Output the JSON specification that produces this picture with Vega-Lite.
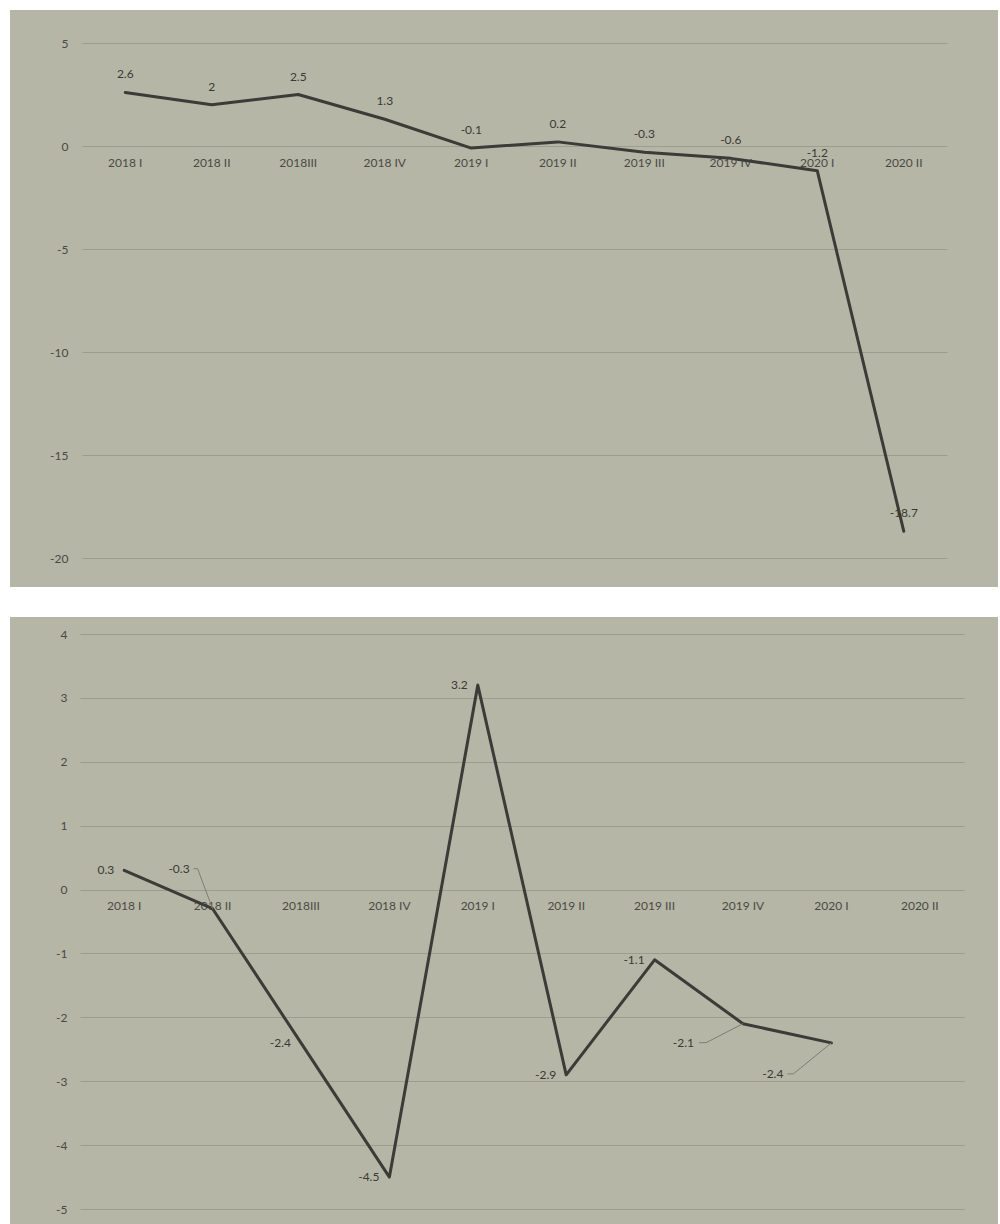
{
  "$schema": "https://vega.github.io/schema/vega-lite/v6.json",
  "background": "white",
  "padding": {"left": 10, "top": 10, "right": 2, "bottom": 0},
  "spacing": 30,
  "config": {
    "font": "Lato",
    "view": {"fill": "#b5b6a6", "stroke": null},
    "locale": {"number": {"decimal": ".", "thousands": ",", "grouping": [3], "currency": ["$", ""], "minus": "-"}},
    "axis": {
      "labelFont": "Lato",
      "labelFontSize": 12,
      "labelColor": "#4a4a44",
      "gridColor": "#9c9d8e",
      "gridWidth": 1,
      "gridOpacity": 1,
      "domain": false,
      "ticks": false,
      "title": null
    },
    "text": {"font": "Lato", "fontSize": 12, "color": "#3a3a35"}
  },
  "datasets": {
    "gdp": [
      {"quarter": "2018 I", "value": 2.6},
      {"quarter": "2018 II", "value": 2},
      {"quarter": "2018III", "value": 2.5},
      {"quarter": "2018 IV", "value": 1.3},
      {"quarter": "2019 I", "value": -0.1},
      {"quarter": "2019 II", "value": 0.2},
      {"quarter": "2019 III", "value": -0.3},
      {"quarter": "2019 IV", "value": -0.6},
      {"quarter": "2020 I", "value": -1.2},
      {"quarter": "2020 II", "value": -18.7}
    ],
    "chg": [
      {"quarter": "2018 I", "value": 0.3},
      {"quarter": "2018 II", "value": -0.3},
      {"quarter": "2018III", "value": -2.4},
      {"quarter": "2018 IV", "value": -4.5},
      {"quarter": "2019 I", "value": 3.2},
      {"quarter": "2019 II", "value": -2.9},
      {"quarter": "2019 III", "value": -1.1},
      {"quarter": "2019 IV", "value": -2.1},
      {"quarter": "2020 I", "value": -2.4}
    ]
  },
  "vconcat": [
    {
      "width": 988,
      "height": 577,
      "data": {"name": "gdp"},
      "encoding": {
        "x": {
          "field": "quarter",
          "type": "ordinal",
          "sort": null,
          "scale": {
            "type": "band",
            "domain": ["2018 I", "2018 II", "2018III", "2018 IV", "2019 I", "2019 II", "2019 III", "2019 IV", "2020 I", "2020 II"],
            "range": [72, 937],
            "paddingInner": 0,
            "paddingOuter": 0
          },
          "axis": {"orient": "bottom", "offset": -441, "labelAngle": 0, "labelPadding": 11, "grid": false}
        },
        "y": {
          "field": "value",
          "type": "quantitative",
          "scale": {"domain": [-20, 5], "range": [548, 33], "nice": false, "zero": false},
          "axis": {"values": [5, 0, -5, -10, -15, -20], "offset": -72, "labelPadding": 14, "grid": true}
        }
      },
      "layer": [
        {"mark": {"type": "line", "color": "#3b3b37", "strokeWidth": 3, "strokeJoin": "round", "strokeCap": "round"}},
        {
          "mark": {"type": "text", "dy": -18, "align": "center", "baseline": "middle"},
          "encoding": {"text": {"field": "value", "type": "nominal"}}
        }
      ]
    },
    {
      "width": 988,
      "height": 607,
      "data": {"name": "chg"},
      "encoding": {
        "x": {
          "field": "quarter",
          "type": "ordinal",
          "sort": null,
          "scale": {
            "type": "band",
            "domain": ["2018 I", "2018 II", "2018III", "2018 IV", "2019 I", "2019 II", "2019 III", "2019 IV", "2020 I", "2020 II"],
            "range": [70, 954],
            "paddingInner": 0,
            "paddingOuter": 0
          },
          "axis": {"orient": "bottom", "offset": -335, "labelAngle": 0, "labelPadding": 11, "grid": false}
        },
        "y": {
          "field": "value",
          "type": "quantitative",
          "scale": {"domain": [-5, 4], "range": [592, 17], "nice": false, "zero": false},
          "axis": {"values": [4, 3, 2, 1, 0, -1, -2, -3, -4, -5], "offset": -70, "labelPadding": 13, "grid": true}
        }
      },
      "layer": [
        {"mark": {"type": "line", "color": "#3b3b37", "strokeWidth": 3, "strokeJoin": "round", "strokeCap": "round"}},
        {
          "transform": [{"filter": {"not": {"field": "quarter", "oneOf": ["2018 II", "2019 IV", "2020 I"]}}}],
          "mark": {"type": "text", "dx": -10, "align": "right", "baseline": "middle"},
          "encoding": {"text": {"field": "value", "type": "nominal"}}
        },
        {
          "transform": [{"filter": {"field": "quarter", "equal": "2018 II"}}],
          "mark": {"type": "text", "dx": -23, "dy": -40, "align": "right", "baseline": "middle"},
          "encoding": {"text": {"field": "value", "type": "nominal"}}
        },
        {
          "transform": [{"filter": {"field": "quarter", "equal": "2019 IV"}}],
          "mark": {"type": "text", "dx": -49, "dy": 19, "align": "right", "baseline": "middle"},
          "encoding": {"text": {"field": "value", "type": "nominal"}}
        },
        {
          "transform": [{"filter": {"field": "quarter", "equal": "2020 I"}}],
          "mark": {"type": "text", "dx": -48, "dy": 31, "align": "right", "baseline": "middle"},
          "encoding": {"text": {"field": "value", "type": "nominal"}}
        },
        {
          "transform": [{"filter": {"field": "quarter", "equal": "2018 II"}}],
          "mark": {"type": "rule", "color": "#7d7e72", "strokeWidth": 1, "x2Offset": -15, "y2Offset": -40},
          "encoding": {
            "x2": {"field": "quarter", "bandPosition": 0.5},
            "y2": {"field": "value"}
          }
        },
        {
          "transform": [{"filter": {"field": "quarter", "equal": "2018 II"}}],
          "mark": {"type": "rule", "color": "#7d7e72", "strokeWidth": 1, "xOffset": -15, "yOffset": -40, "x2Offset": -19, "y2Offset": -40},
          "encoding": {
            "x2": {"field": "quarter", "bandPosition": 0.5},
            "y2": {"field": "value"}
          }
        },
        {
          "transform": [{"filter": {"field": "quarter", "equal": "2019 IV"}}],
          "mark": {"type": "rule", "color": "#7d7e72", "strokeWidth": 1, "x2Offset": -37, "y2Offset": 19},
          "encoding": {
            "x2": {"field": "quarter", "bandPosition": 0.5},
            "y2": {"field": "value"}
          }
        },
        {
          "transform": [{"filter": {"field": "quarter", "equal": "2019 IV"}}],
          "mark": {"type": "rule", "color": "#7d7e72", "strokeWidth": 1, "xOffset": -37, "yOffset": 19, "x2Offset": -44, "y2Offset": 19},
          "encoding": {
            "x2": {"field": "quarter", "bandPosition": 0.5},
            "y2": {"field": "value"}
          }
        },
        {
          "transform": [{"filter": {"field": "quarter", "equal": "2020 I"}}],
          "mark": {"type": "rule", "color": "#7d7e72", "strokeWidth": 1, "x2Offset": -38, "y2Offset": 31},
          "encoding": {
            "x2": {"field": "quarter", "bandPosition": 0.5},
            "y2": {"field": "value"}
          }
        },
        {
          "transform": [{"filter": {"field": "quarter", "equal": "2020 I"}}],
          "mark": {"type": "rule", "color": "#7d7e72", "strokeWidth": 1, "xOffset": -38, "yOffset": 31, "x2Offset": -44, "y2Offset": 31},
          "encoding": {
            "x2": {"field": "quarter", "bandPosition": 0.5},
            "y2": {"field": "value"}
          }
        }
      ]
    }
  ]
}
